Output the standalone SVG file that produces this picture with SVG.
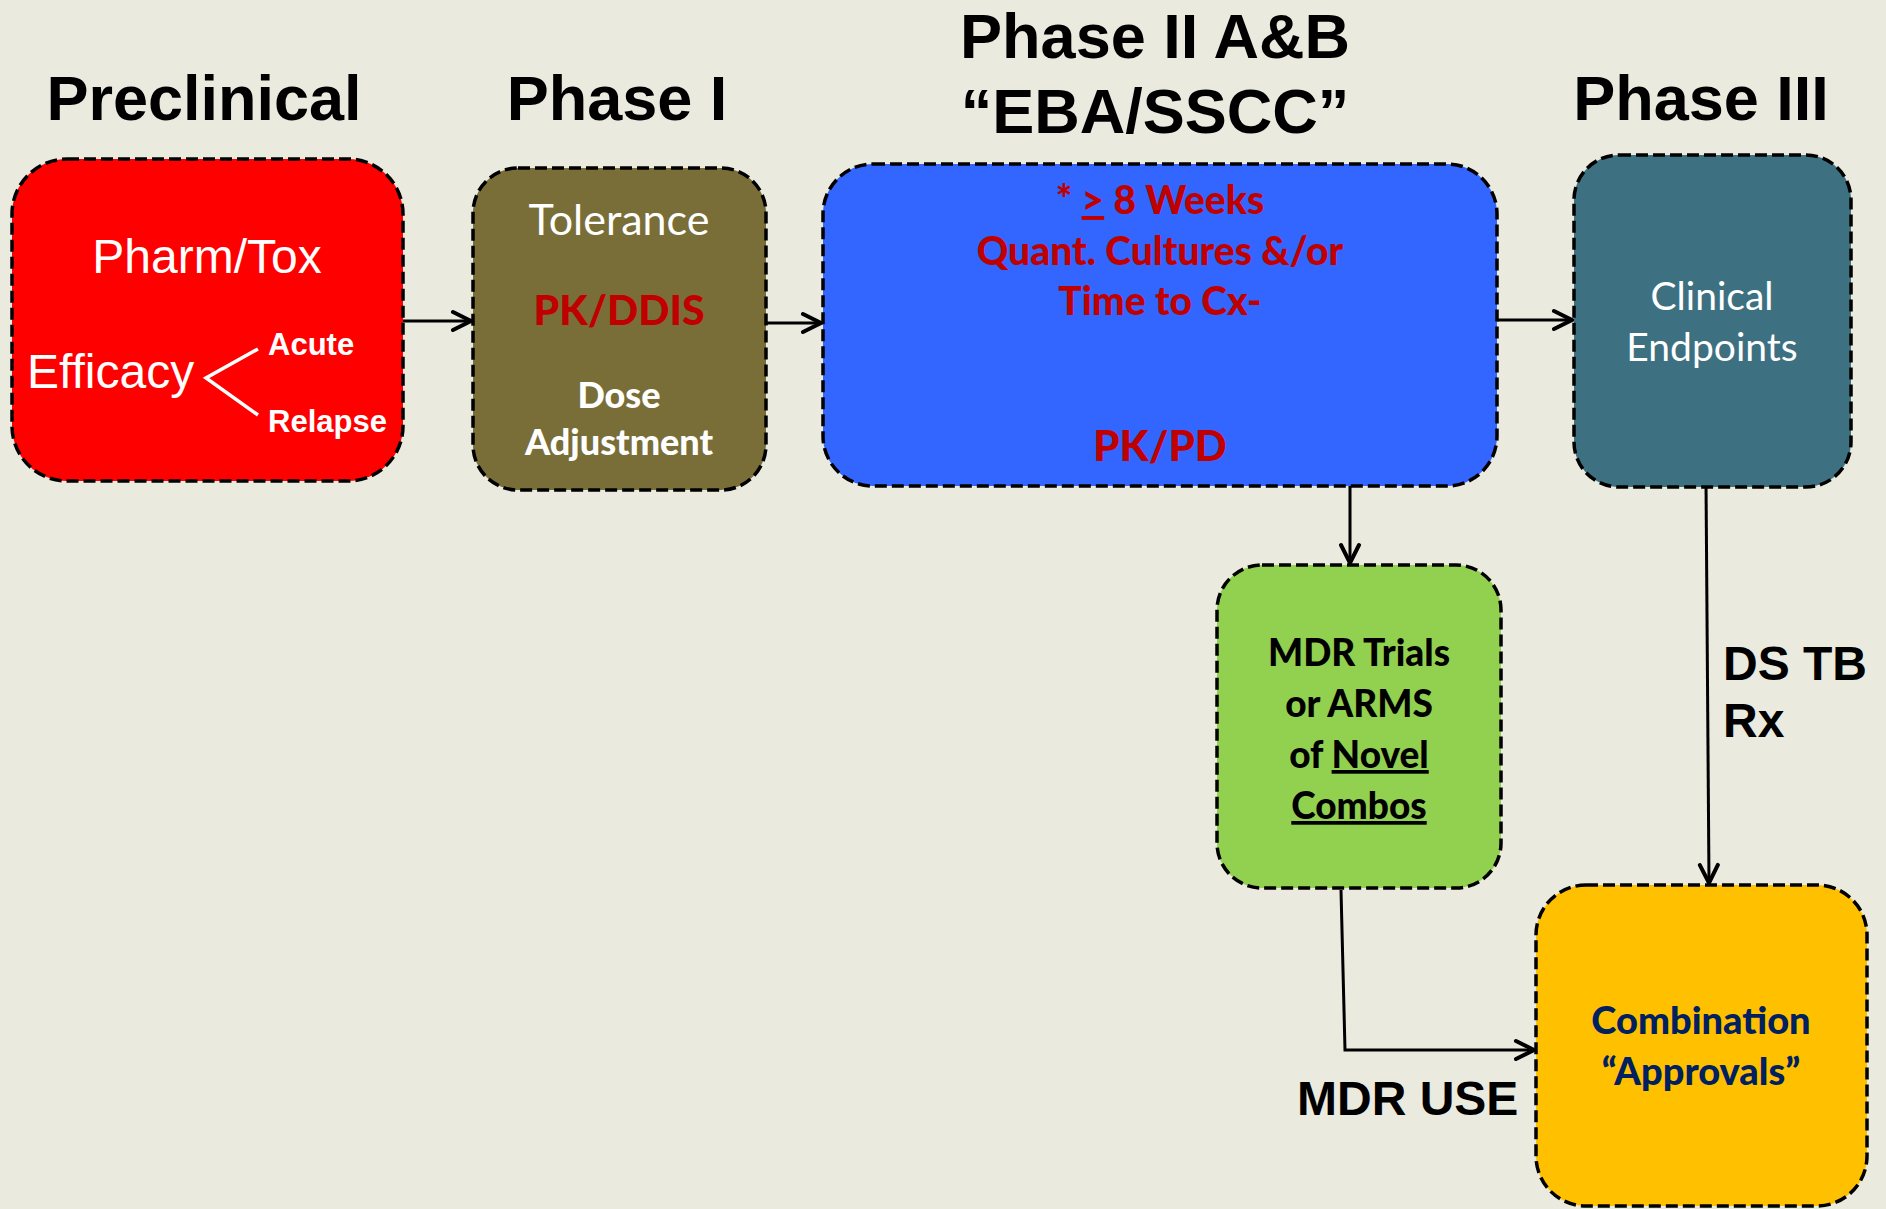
<svg xmlns="http://www.w3.org/2000/svg" width="1886" height="1209" viewBox="0 0 1886 1209">
<defs>
<style>
.box{stroke:#000;stroke-width:3.5;stroke-dasharray:12 5;}
.title{font-family:"Liberation Sans",Arial,sans-serif;font-weight:bold;font-size:63px;fill:#000;text-anchor:middle;}
.lbl{font-family:"Liberation Sans",Arial,sans-serif;font-weight:bold;font-size:48px;fill:#000;}
.cal{font-family:Lato,"Open Sans",sans-serif;text-anchor:middle;}
.b{font-weight:900;}
.ar{font-family:"Liberation Sans",Arial,sans-serif;}
.conn{stroke:#000;stroke-width:3;fill:none;}
</style>
<marker id="arr" viewBox="0 0 26 26" refX="22" refY="13" markerWidth="26" markerHeight="26" orient="auto" markerUnits="userSpaceOnUse">
<path d="M4,4 L22,13 L4,22" fill="none" stroke="#000" stroke-width="4" stroke-linecap="round"/>
</marker>
</defs>
<rect width="1886" height="1209" fill="#EAEADF"/>

<g id="titles">
<text class="title" x="204" y="120">Preclinical</text>
<text class="title" x="617" y="120">Phase I</text>
<text class="title" x="1155" y="58">Phase II A&amp;B</text>
<text class="title" x="1155" y="133">“EBA/SSCC”</text>
<text class="title" x="1701" y="120">Phase III</text>
</g>

<g id="connectors">
<path class="conn" d="M403,321 L471,321" marker-end="url(#arr)"/>
<path class="conn" d="M766,323 L821,323" marker-end="url(#arr)"/>
<path class="conn" d="M1497,320 L1572,320" marker-end="url(#arr)"/>
<path class="conn" d="M1350,486 L1350,563" marker-end="url(#arr)"/>
<path class="conn" d="M1706,481 L1709,883" marker-end="url(#arr)"/>
<path class="conn" d="M1341,890 L1345,1050 L1534,1050" marker-end="url(#arr)"/>
</g>

<g id="preclinical">
<rect class="box" x="12" y="159" width="391" height="322" rx="55" fill="#FF0000"/>
<text class="ar" x="207" y="273" font-size="48" fill="#fff" text-anchor="middle">Pharm/Tox</text>
<text class="ar" x="27" y="388" font-size="48" fill="#fff">Efficacy</text>
<path d="M258,349 L206,378 L258,415" fill="none" stroke="#fff" stroke-width="3.5"/>
<text class="ar" x="268" y="355" font-size="31" font-weight="bold" fill="#fff">Acute</text>
<text class="ar" x="268" y="432" font-size="31" font-weight="bold" fill="#fff">Relapse</text>
</g>

<g id="phase1">
<rect class="box" x="473" y="168" width="293" height="322" rx="45" fill="#796E38"/>
<text class="cal" x="619" y="235" font-size="43" fill="#fff">Tolerance</text>
<text class="cal b" x="619" y="325" font-size="41" fill="#C00000">PK/DDIS</text>
<text class="cal b" x="619" y="408" font-size="36" fill="#fff">Dose</text>
<text class="cal b" x="619" y="455" font-size="36" fill="#fff">Adjustment</text>
</g>

<g id="phase2">
<rect class="box" x="823" y="164" width="674" height="322" rx="50" fill="#3366FF"/>
<g class="cal b" fill="#C00000" font-size="39">
<text x="1160" y="214">* <tspan text-decoration="underline">&gt;</tspan> 8 Weeks</text>
<text x="1160" y="265">Quant. Cultures &amp;/or</text>
<text x="1160" y="315">Time to Cx-</text>
<text x="1160" y="461" font-size="42">PK/PD</text>
</g>
</g>

<g id="phase3">
<rect class="box" x="1574" y="155" width="277" height="332" rx="45" fill="#3D7182"/>
<text class="cal" x="1712" y="310" font-size="39" fill="#fff">Clinical</text>
<text class="cal" x="1712" y="361" font-size="39" fill="#fff">Endpoints</text>
</g>

<g id="mdr">
<rect class="box" x="1217" y="565" width="284" height="323" rx="45" fill="#92D050"/>
<g class="cal b" fill="#000" font-size="37">
<text x="1359" y="666">MDR Trials</text>
<text x="1359" y="717">or ARMS</text>
<text x="1359" y="768">of <tspan text-decoration="underline">Novel</tspan></text>
<text x="1359" y="819" text-decoration="underline">Combos</text>
</g>
</g>

<g id="approvals">
<rect class="box" x="1536" y="885" width="331" height="321" rx="50" fill="#FFC000"/>
<text class="cal b" x="1701" y="1034" font-size="38" fill="#002060">Combination</text>
<text class="cal b" x="1701" y="1085" font-size="38" fill="#002060">“Approvals”</text>
</g>

<g id="labels">
<text class="lbl" x="1723" y="680">DS TB</text>
<text class="lbl" x="1723" y="737">Rx</text>
<text class="lbl" x="1297" y="1115">MDR USE</text>
</g>
</svg>
